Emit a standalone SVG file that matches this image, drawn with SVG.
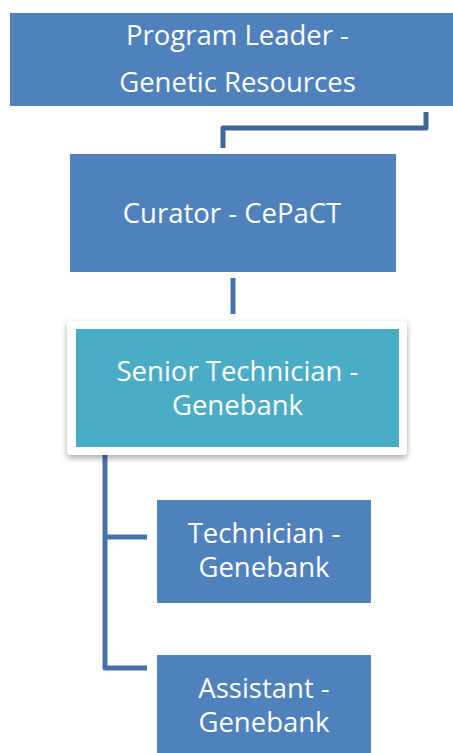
<svg xmlns="http://www.w3.org/2000/svg" width="453" height="753" viewBox="0 0 453 753">
<defs>
<style>
.box{fill:#4F81BD}
.teal{fill:#4BACC6}
.t{font-family:"Open Sans","Liberation Sans",sans-serif;font-size:27.5px;fill:#FFFFFF;text-anchor:middle}
.c{fill:none;stroke:#4672AA;stroke-width:5;stroke-linejoin:round}
.c1{fill:none;stroke:#3E6696;stroke-width:5;stroke-linejoin:round}
</style>
<filter id="sh" x="-10%" y="-10%" width="120%" height="130%">
<feDropShadow dx="0" dy="3" stdDeviation="3" flood-color="#000" flood-opacity="0.35"/>
</filter>
</defs>
<rect width="453" height="753" fill="#FFFFFF"/>
<g id="connectors">
<path class="c1" d="M426,112 V128 H223 V148"/>
<path class="c" d="M233,278 V314"/>
<path class="c" d="M105,455 V668 H147 M105,537 H147"/>
</g>
<g id="program-leader">
<rect class="box" x="10" y="13" width="450" height="93"/>
<text class="t" x="237.5" y="45">Program Leader -</text>
<text class="t" x="237.5" y="92">Genetic Resources</text>
</g>
<g id="curator">
<rect class="box" x="70" y="154" width="326" height="118"/>
<text class="t" x="232" y="223">Curator - CePaCT</text>
</g>
<g id="senior-technician">
<rect x="67" y="321" width="340" height="134" rx="4" fill="#FFFFFF" filter="url(#sh)"/>
<rect class="teal" x="76" y="329" width="323" height="118"/>
<text class="t" x="237.5" y="381">Senior Technician -</text>
<text class="t" x="237.5" y="415">Genebank</text>
</g>
<g id="technician">
<rect class="box" x="157" y="500" width="214" height="103"/>
<text class="t" x="264" y="543">Technician -</text>
<text class="t" x="264" y="577">Genebank</text>
</g>
<g id="assistant">
<rect class="box" x="157" y="655" width="214" height="105"/>
<text class="t" x="264" y="698">Assistant -</text>
<text class="t" x="264" y="732">Genebank</text>
</g>
</svg>
